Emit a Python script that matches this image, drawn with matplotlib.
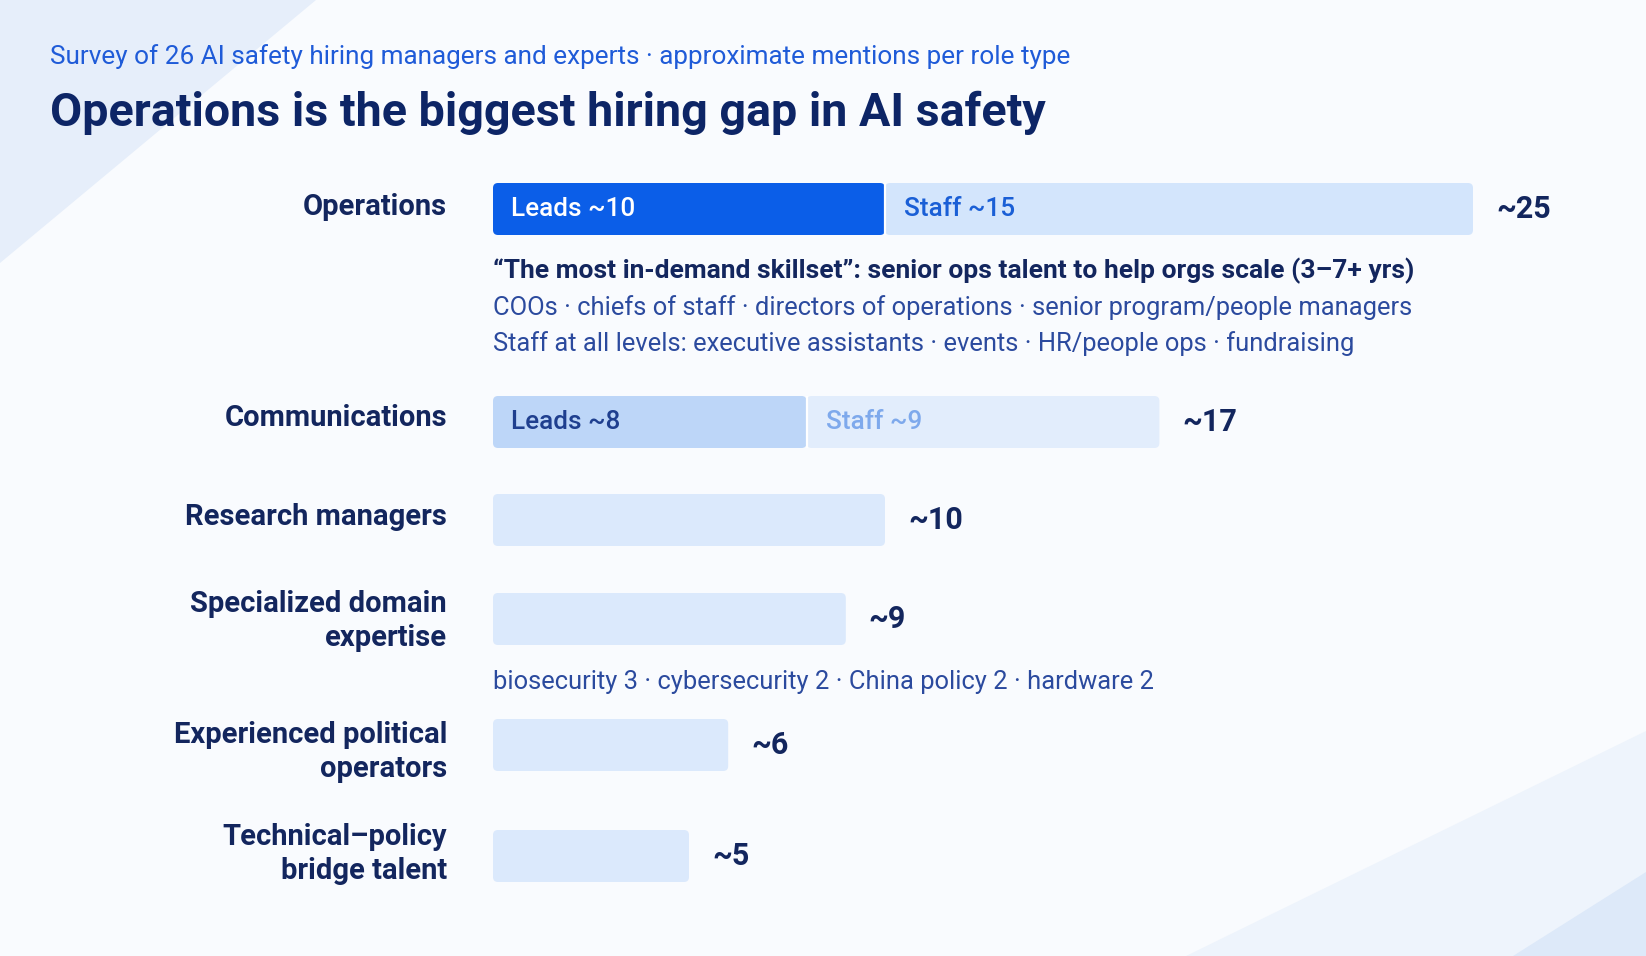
import matplotlib.pyplot as plt
from matplotlib.patches import Polygon, FancyBboxPatch

# ================== DATA ==================
categories = [
    "Operations",
    "Communications",
    "Research managers",
    "Specialized domain\nexpertise",
    "Experienced political\noperators",
    "Technical\u2013policy\nbridge talent",
]
leads = [10, 8]          # Operations, Communications
staff = [15, 9]
single = [10, 9, 6, 5]   # the four unsplit roles
totals = [l + s for l, s in zip(leads, staff)] + single

subtitle = ("Survey of 26 AI safety hiring managers and experts \u00b7 "
            "approximate mentions per role type")
title = "Operations is the biggest hiring gap in AI safety"
ops_notes = [
    "\u201cThe most in-demand skillset\u201d: senior ops talent to help orgs scale (3\u20137+ yrs)",
    "COOs \u00b7 chiefs of staff \u00b7 directors of operations \u00b7 senior program/people managers",
    "Staff at all levels: executive assistants \u00b7 events \u00b7 HR/people ops \u00b7 fundraising",
]
domain_note = "biosecurity 3 \u00b7 cybersecurity 2 \u00b7 China policy 2 \u00b7 hardware 2"

# ================== LAYOUT (pixels) ==================
W, H, DPI = 1646, 956, 100
row_y = [209, 422, 520, 619, 745, 856]
label_y = [207, 418, 517, 621, 752, 854]
bar_h = 52
bar_x0 = 493
px_per_unit = 39.2
label_x = 447

NAVY = "#13265e"
MID = "#2b4a9e"
BLUE = "#1f5bd8"

plt.rcParams["font.family"] = ["Roboto", "DejaVu Sans"]

fig = plt.figure(figsize=(W / DPI, H / DPI), dpi=DPI)
fig.patch.set_facecolor("#f9fbfe")

# background layer in pixel coordinates
bg = fig.add_axes([0, 0, 1, 1], zorder=0)
bg.set_xlim(0, W)
bg.set_ylim(H, 0)
bg.axis("off")
bg.add_patch(Polygon([(0, 0), (316, 0), (0, 263)], closed=True, fc="#e6eefa", ec="none"))
bg.add_patch(Polygon([(1186, H), (W, 731), (W, H)], closed=True, fc="#eef4fc", ec="none"))
bg.add_patch(Polygon([(1513, H), (W, 872), (W, H)], closed=True, fc="#dde9f9", ec="none"))

bg.text(50, 57, subtitle, fontsize=18.8, color=BLUE, ha="left", va="center")
bg.text(50, 113, title, fontsize=33.6, fontweight="bold", color="#0d2566",
        ha="left", va="center")

for name, y in zip(categories, label_y):
    bg.text(label_x, y, name, fontsize=21, fontweight="bold", color=NAVY,
            ha="right", va="center", linespacing=1.25)

bg.text(bar_x0, 271, ops_notes[0], fontsize=19, fontweight="bold", color=NAVY,
        ha="left", va="center")
bg.text(bar_x0, 308, ops_notes[1], fontsize=18.4, color=MID, ha="left", va="center")
bg.text(bar_x0, 344, ops_notes[2], fontsize=18.4, color=MID, ha="left", va="center")
bg.text(bar_x0, 682, domain_note, fontsize=18.4, color=MID, ha="left", va="center")

# bar layer: x in mention units, y in pixels
ax = fig.add_axes([bar_x0 / W, 0, 1 - bar_x0 / W, 1], zorder=1)
ax.set_xlim(0, (W - bar_x0) / px_per_unit)
ax.set_ylim(H, 0)
ax.axis("off")
ax.patch.set_alpha(0)

lead_colors = ["#0b5ee8", "#bdd6f8"]
staff_colors = ["#d3e5fc", "#e2edfc"]
lead_text = ["white", "#1f3f8f"]
staff_text = ["#1a5fd6", "#7ea9ec"]

b_lead = ax.barh(row_y[:2], leads, height=bar_h, color=lead_colors)
b_staff = ax.barh(row_y[:2], staff, left=leads, height=bar_h, color=staff_colors)
b_single = ax.barh(row_y[2:], single, height=bar_h, color="#dbe9fc")

# swap the plain rectangles for slightly rounded ones
radius_px = 5
for rect in list(b_lead) + list(b_staff) + list(b_single):
    x, y = rect.get_x(), rect.get_y()
    w, h = rect.get_width(), rect.get_height()
    rr = FancyBboxPatch((x, y), w, h,
                        boxstyle=f"round,pad=0,rounding_size={radius_px / px_per_unit}",
                        mutation_aspect=px_per_unit,
                        fc=rect.get_facecolor(), ec="none")
    ax.add_patch(rr)
    rect.set_visible(False)

# thin separator between leads and staff
for l, y in zip(leads, row_y[:2]):
    ax.vlines(l, y - bar_h / 2, y + bar_h / 2, color="white", lw=1.6)

for i in range(2):
    ax.annotate(f"Leads ~{leads[i]}", (0, row_y[i]), xytext=(13, 0),
                textcoords="offset points", fontsize=18.8, color=lead_text[i],
                ha="left", va="center", fontweight="medium")
    ax.annotate(f"Staff ~{staff[i]}", (leads[i], row_y[i]), xytext=(14, 0),
                textcoords="offset points", fontsize=18.8, color=staff_text[i],
                ha="left", va="center", fontweight="medium")

for t, y in zip(totals, row_y):
    ax.annotate(f"~{t}", (t, y), xytext=(16.5, 0), textcoords="offset points",
                fontsize=22, fontweight="bold", color=NAVY, ha="left", va="center")

fig.savefig("out.png", dpi=DPI, facecolor=fig.get_facecolor())
